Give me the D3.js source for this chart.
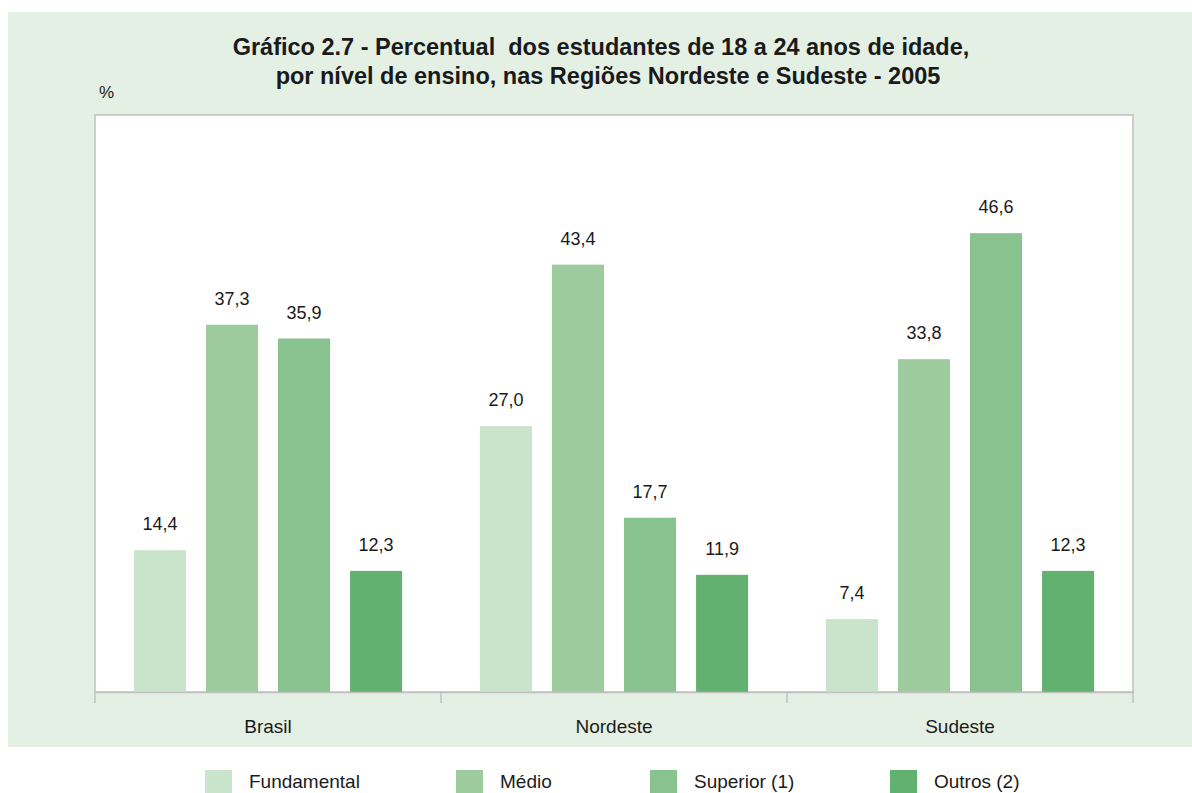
<!DOCTYPE html>
<html>
<head>
<meta charset="utf-8">
<script src="https://cdn.jsdelivr.net/npm/d3@7"></script>
<style>
  body { margin: 0; background: #fff; }
  text { font-family: "Liberation Sans", Arial, sans-serif; fill: #1a1a1a; }
</style>
</head>
<body>
<div id="chart"></div>
<script>
// data
var regions = ["Brasil", "Nordeste", "Sudeste"];
var levels = ["Fundamental", "Médio", "Superior (1)", "Outros (2)"];
var fundamental = [14.4, 27.0, 7.4];
var medio = [37.3, 43.4, 33.8];
var superior = [35.9, 17.7, 46.6];
var outros = [12.3, 11.9, 12.3];
var colors = ["#cae3cb", "#9dcb9e", "#88c28e", "#62b16e"];

var width = 1192;
var height = 793;
var plot = {left: 95, right: 1133, top: 115, bottom: 692};

var svg = d3.select("#chart")
  .append("svg")
  .attr("width", width)
  .attr("height", height);

// green panel
svg.append("rect")
  .attr("x", 8).attr("y", 12)
  .attr("width", 1184).attr("height", 735)
  .attr("fill", "#e5f0e5");

// white plot area
svg.append("rect")
  .attr("x", plot.left).attr("y", plot.top)
  .attr("width", plot.right - plot.left)
  .attr("height", plot.bottom - plot.top)
  .attr("fill", "#fff")
  .attr("stroke", "#c0c0c0")
  .attr("stroke-width", 1.5);

// title
var title = svg.append("text")
  .attr("text-anchor", "middle")
  .attr("font-weight", "bold")
  .attr("font-size", 23.5);
title.append("tspan").attr("x", 601).attr("y", 55)
  .attr("xml:space", "preserve")
  .text("Gráfico 2.7 - Percentual  dos estudantes de 18 a 24 anos de idade,");
title.append("tspan").attr("x", 608).attr("y", 84)
  .text("por nível de ensino, nas Regiões Nordeste e Sudeste - 2005");

svg.append("text")
  .attr("x", 99).attr("y", 98)
  .attr("font-size", 17)
  .text("%");

// scales
var x0 = d3.scaleBand()
  .domain(regions)
  .range([plot.left, plot.right])
  .padding(0);

var x1 = d3.scaleBand()
  .domain(levels)
  .range([0, x0.bandwidth()])
  .paddingInner(20 / 72)
  .paddingOuter(0.54);

var y = d3.scaleLinear()
  .domain([0, 58.6])
  .range([plot.bottom, plot.top]);

var rows = regions.map(function(r, i) {
  return {region: r, values: [fundamental[i], medio[i], superior[i], outros[i]]};
});

var groups = svg.selectAll(".group")
  .data(rows)
  .enter()
  .append("g")
  .attr("class", "group")
  .attr("transform", d => `translate(${x0(d.region)},0)`);

groups.selectAll("rect")
  .data(d => d.values.map((v, j) => ({level: levels[j], value: v, idx: j})))
  .enter()
  .append("rect")
  .attr("x", d => x1(d.level))
  .attr("y", d => y(d.value))
  .attr("width", x1.bandwidth())
  .attr("height", d => plot.bottom - y(d.value))
  .attr("fill", d => colors[d.idx]);

groups.selectAll(".val")
  .data(d => d.values.map((v, j) => ({level: levels[j], value: v})))
  .enter()
  .append("text")
  .attr("class", "val")
  .attr("x", d => x1(d.level) + x1.bandwidth() / 2)
  .attr("y", d => y(d.value) - 20)
  .attr("text-anchor", "middle")
  .attr("font-size", 18)
  .text(d => d.value.toFixed(1).replace(".", ","));

// x axis
var xAxis = d3.axisBottom(x0)
  .tickSize(0)
  .tickPadding(28);
var axisG = svg.append("g")
  .attr("transform", `translate(0,${plot.bottom})`)
  .call(xAxis);
axisG.select(".domain").attr("stroke", "#c0c0c0").attr("stroke-width", 1.5);
axisG.selectAll(".tick text")
  .attr("font-size", 19)
  .attr("font-family", "Liberation Sans, Arial, sans-serif")
  .attr("fill", "#1a1a1a");

// group separators
var seps = [plot.left].concat(regions.map(r => x0(r) + x0.bandwidth()));
svg.selectAll(".sep")
  .data(seps)
  .enter()
  .append("line")
  .attr("x1", d => d).attr("x2", d => d)
  .attr("y1", plot.bottom).attr("y2", plot.bottom + 11)
  .attr("stroke", "#c0c0c0")
  .attr("stroke-width", 1.5);

// legend
var legendX = [205, 456, 650, 890];
var legend = svg.selectAll(".legend")
  .data(levels)
  .enter()
  .append("g")
  .attr("transform", (d, i) => `translate(${legendX[i]},770)`);
legend.append("rect")
  .attr("width", 27).attr("height", 23)
  .attr("fill", (d, i) => colors[i]);
legend.append("text")
  .attr("x", 44).attr("y", 18)
  .attr("font-size", 19)
  .text(d => d);
</script>
</body>
</html>
